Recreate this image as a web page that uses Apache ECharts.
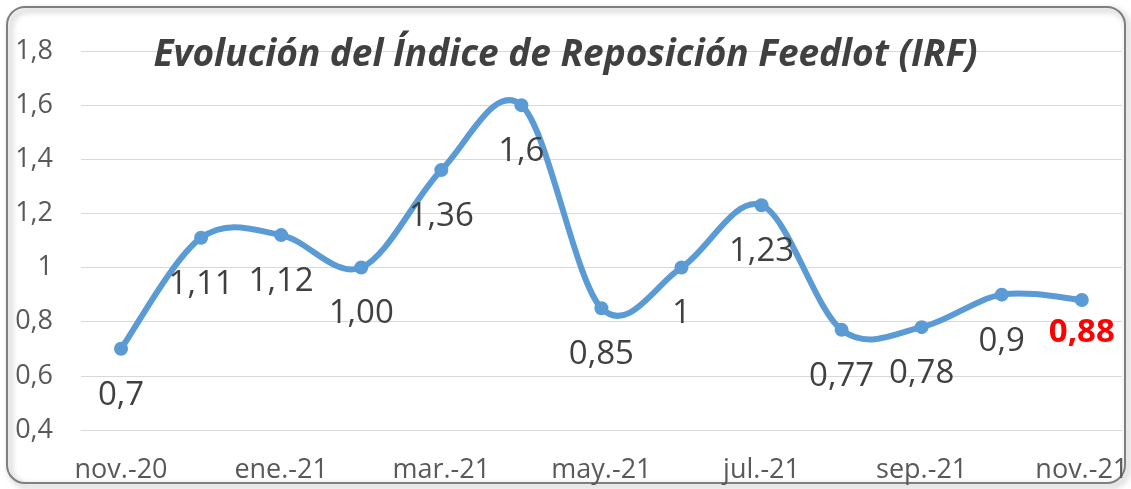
<!DOCTYPE html>
<html>
<head>
<meta charset="utf-8">
<script src="https://cdn.jsdelivr.net/npm/echarts@6/dist/echarts.min.js"></script>
<style>
html,body{margin:0;padding:0;background:#fff;}
#c{width:1131px;height:489px;}
</style>
</head>
<body>
<div id="c"></div>
<script>
const categories = ['nov.-20','dic.-20','ene.-21','feb.-21','mar.-21','abr.-21','may.-21','jun.-21','jul.-21','ago.-21','sep.-21','oct.-21','nov.-21'];
const values = [0.7, 1.11, 1.12, 1.00, 1.36, 1.6, 0.85, 1.0, 1.23, 0.77, 0.78, 0.9, 0.88];
const valueLabels = ['0,7','1,11','1,12','1,00','1,36','1,6','0,85','1','1,23','0,77','0,78','0,9','0,88'];
const titleText = 'Evolución del Índice de Reposición Feedlot (IRF)';

const FONT = '"Open Sans", "Noto Sans", sans-serif';
const LINE_COLOR = '#5B9BD5';
const chart = echarts.init(document.getElementById('c'));
const last = values.length - 1;
const seriesData = values.map((v, i) => {
  const item = { value: v };
  if (i === last) {
    item.label = { color: '#FF0000', fontWeight: 'bold', distance: 9 };
  }
  return item;
});

// Excel-like smoothed curve (Catmull-Rom through the data points, via the axes' scales)
function renderCurve(params, api) {
  const pts = values.map((v, i) => api.coord([i, v]));
  const children = [];
  for (let i = 0; i < pts.length - 1; i++) {
    const p0 = pts[Math.max(i - 1, 0)];
    const p1 = pts[i];
    const p2 = pts[i + 1];
    const p3 = pts[Math.min(i + 2, pts.length - 1)];
    children.push({
      type: 'bezierCurve',
      shape: {
        x1: p1[0], y1: p1[1],
        cpx1: p1[0] + (p2[0] - p0[0]) / 6, cpy1: p1[1] + (p2[1] - p0[1]) / 6,
        cpx2: p2[0] - (p3[0] - p1[0]) / 6, cpy2: p2[1] - (p3[1] - p1[1]) / 6,
        x2: p2[0], y2: p2[1]
      },
      style: { stroke: LINE_COLOR, lineWidth: 6, fill: null, lineCap: 'round' }
    });
  }
  return { type: 'group', children };
}

chart.setOption({
  animation: false,
  backgroundColor: '#fff',
  title: {
    text: titleText,
    left: 'center',
    top: 32,
    textStyle: { fontFamily: FONT, fontSize: 37, fontWeight: 'bold', fontStyle: 'italic', color: '#404040' }
  },
  graphic: [{
    type: 'rect',
    z: -10,
    shape: { x: 7, y: 7, width: 1118, height: 476, r: 18 },
    style: { fill: 'rgba(0,0,0,0)', stroke: '#7f7f7f', lineWidth: 2, shadowBlur: 6, shadowOffsetX: 3, shadowOffsetY: 3, shadowColor: 'rgba(0,0,0,0.4)' }
  }],
  grid: { left: 81, right: 2, top: 51, bottom: 59, containLabel: false },
  xAxis: {
    type: 'category',
    data: categories,
    boundaryGap: true,
    axisLine: { show: true, lineStyle: { color: '#d9d9d9', width: 1 } },
    axisTick: { show: false },
    axisLabel: { interval: 1, color: '#595959', fontFamily: FONT, fontSize: 27, margin: 27 },
    splitLine: { show: false }
  },
  yAxis: {
    type: 'value',
    min: 0.4, max: 1.8, interval: 0.2,
    axisLine: { show: false },
    axisTick: { show: false },
    axisLabel: {
      color: '#595959', fontFamily: FONT, fontSize: 27, margin: 28,
      formatter: v => String(Math.round(v * 10) / 10).replace('.', ',')
    },
    splitLine: { lineStyle: { color: '#d9d9d9', width: 1 } }
  },
  series: [{
    type: 'custom',
    data: [0],
    z: 2,
    silent: true,
    renderItem: renderCurve
  }, {
    type: 'line',
    data: seriesData,
    z: 3,
    symbol: 'circle',
    symbolSize: 14,
    lineStyle: { width: 0, opacity: 0 },
    itemStyle: { color: LINE_COLOR },
    label: {
      show: true,
      position: 'bottom',
      distance: 23,
      fontFamily: FONT,
      fontSize: 33,
      color: '#404040',
      formatter: p => valueLabels[p.dataIndex]
    }
  }]
});
</script>
</body>
</html>
